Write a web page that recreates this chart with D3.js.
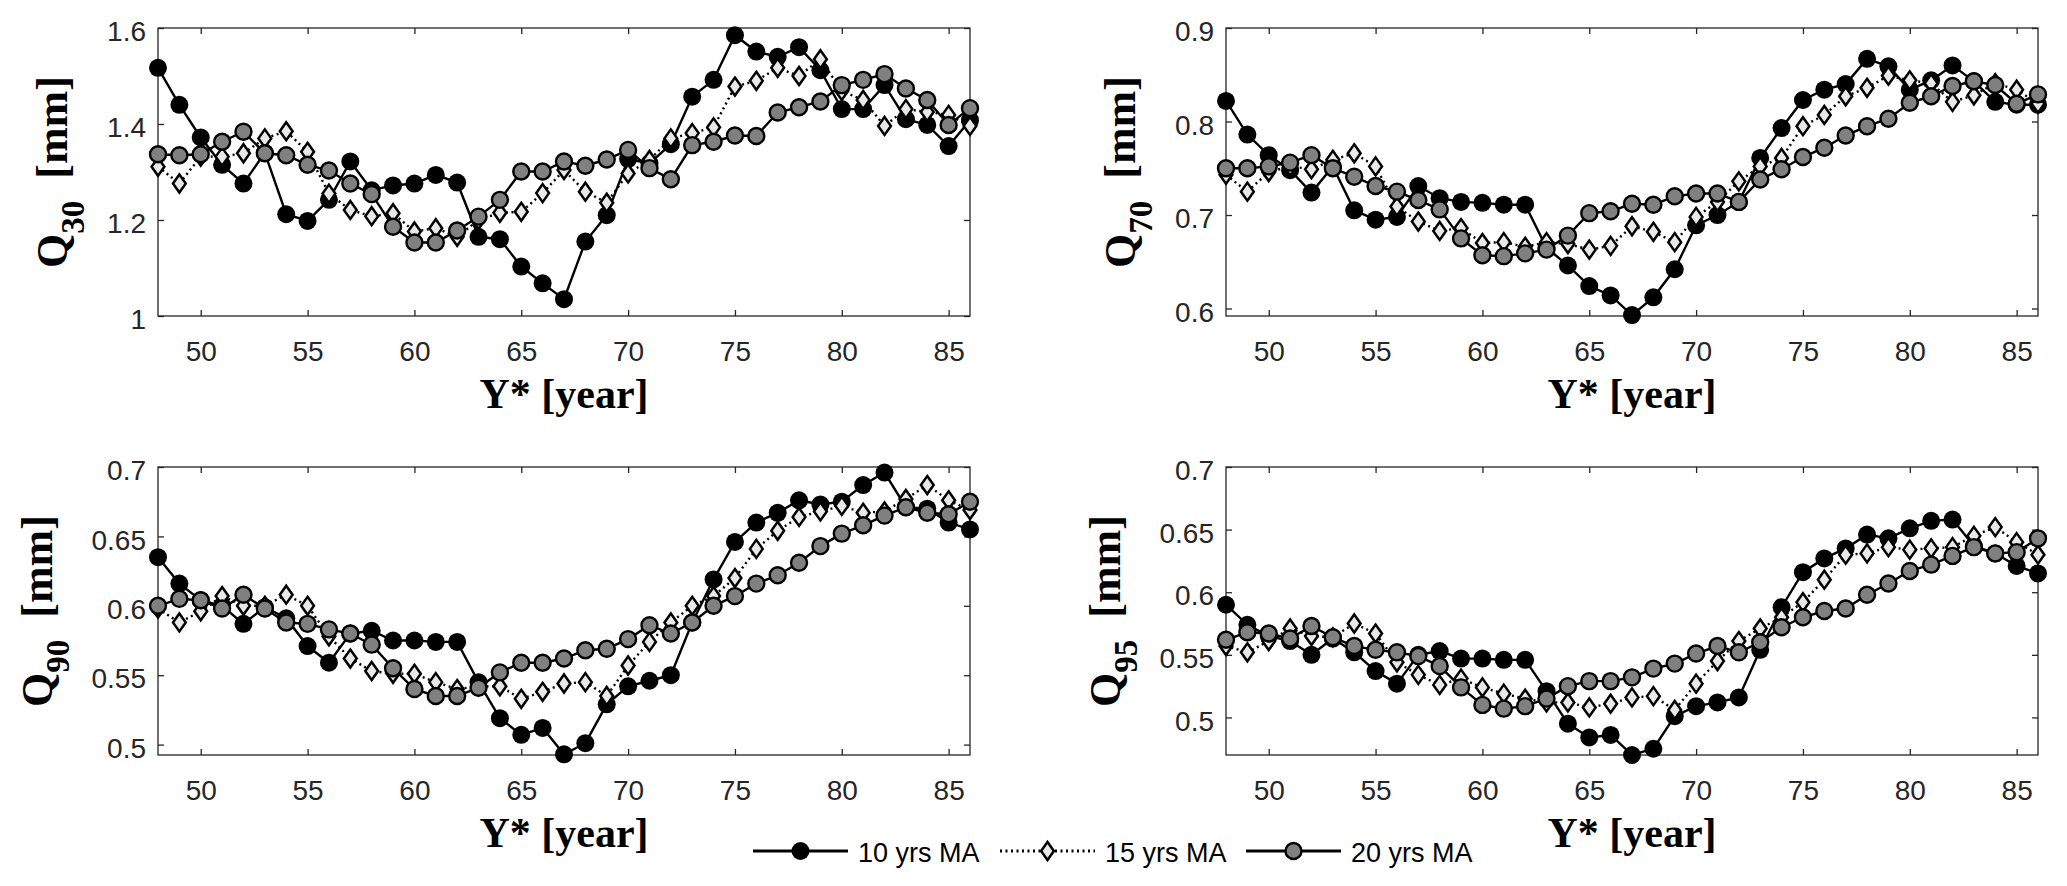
<!DOCTYPE html>
<html lang="en">
<head>
<meta charset="UTF-8">
<title>Moving averages of Q</title>
<style>
  body { margin: 0; background: #fff; }
</style>
</head>
<body>
<script src="https://d3js.org/d3.v7.min.js"></script>
<script>
// years Y* (x axis)
var years = [48, 49, 50, 51, 52, 53, 54, 55, 56, 57, 58, 59, 60, 61, 62, 63, 64, 65, 66, 67,
             68, 69, 70, 71, 72, 73, 74, 75, 76, 77, 78, 79, 80, 81, 82, 83, 84, 85, 86];

// Q30
var q30_10 = [1.517, 1.440, 1.372, 1.315, 1.276, 1.340, 1.212, 1.198, 1.242, 1.322, 1.262, 1.272, 1.276, 1.294, 1.278, 1.165, 1.160, 1.103, 1.068, 1.035,
              1.155, 1.210, 1.327, 1.318, 1.358, 1.457, 1.492, 1.585, 1.551, 1.540, 1.560, 1.512, 1.431, 1.431, 1.481, 1.410, 1.398, 1.354, 1.408];
var q30_15 = [1.311, 1.276, 1.332, 1.332, 1.339, 1.370, 1.385, 1.342, 1.255, 1.221, 1.208, 1.214, 1.176, 1.183, 1.165, 1.200, 1.215, 1.217, 1.256, 1.304,
              1.259, 1.236, 1.297, 1.325, 1.370, 1.381, 1.393, 1.478, 1.490, 1.517, 1.500, 1.535, 1.469, 1.450, 1.396, 1.431, 1.425, 1.419, 1.396];
var q30_20 = [1.337, 1.335, 1.337, 1.363, 1.384, 1.339, 1.335, 1.315, 1.303, 1.276, 1.254, 1.186, 1.153, 1.153, 1.178, 1.207, 1.242, 1.301, 1.301, 1.322,
              1.313, 1.326, 1.346, 1.308, 1.285, 1.356, 1.363, 1.376, 1.375, 1.424, 1.435, 1.447, 1.481, 1.492, 1.504, 1.474, 1.450, 1.398, 1.433];

// Q70
var q70_10 = [0.822, 0.786, 0.764, 0.748, 0.724, 0.752, 0.705, 0.695, 0.698, 0.731, 0.718, 0.714, 0.713, 0.711, 0.711, 0.665, 0.646, 0.624, 0.614, 0.593,
              0.612, 0.642, 0.689, 0.700, 0.714, 0.761, 0.793, 0.823, 0.834, 0.840, 0.867, 0.859, 0.834, 0.844, 0.860, 0.843, 0.821, 0.818, 0.818];
var q70_15 = [0.743, 0.725, 0.746, 0.752, 0.749, 0.759, 0.766, 0.752, 0.709, 0.693, 0.683, 0.686, 0.670, 0.671, 0.666, 0.671, 0.669, 0.663, 0.667, 0.688,
              0.682, 0.671, 0.698, 0.714, 0.736, 0.752, 0.761, 0.795, 0.807, 0.827, 0.836, 0.849, 0.844, 0.841, 0.821, 0.828, 0.841, 0.834, 0.819];
var q70_20 = [0.750, 0.750, 0.752, 0.756, 0.764, 0.750, 0.741, 0.731, 0.725, 0.716, 0.706, 0.675, 0.657, 0.656, 0.659, 0.663, 0.678, 0.702, 0.704, 0.712,
              0.711, 0.720, 0.723, 0.723, 0.714, 0.738, 0.749, 0.762, 0.772, 0.785, 0.795, 0.803, 0.820, 0.827, 0.838, 0.843, 0.839, 0.819, 0.829];

// Q90
var q90_10 = [0.635, 0.616, 0.604, 0.600, 0.587, 0.599, 0.591, 0.571, 0.559, 0.580, 0.582, 0.575, 0.575, 0.574, 0.574, 0.545, 0.519, 0.507, 0.512, 0.493,
              0.501, 0.529, 0.542, 0.546, 0.550, 0.588, 0.619, 0.646, 0.660, 0.667, 0.676, 0.673, 0.675, 0.687, 0.696, 0.671, 0.670, 0.660, 0.655];
var q90_15 = [0.598, 0.588, 0.596, 0.607, 0.600, 0.600, 0.608, 0.600, 0.578, 0.562, 0.553, 0.551, 0.551, 0.545, 0.540, 0.542, 0.542, 0.533, 0.538, 0.544,
              0.545, 0.535, 0.557, 0.574, 0.588, 0.600, 0.607, 0.620, 0.641, 0.654, 0.664, 0.668, 0.672, 0.667, 0.668, 0.677, 0.687, 0.676, 0.669];
var q90_20 = [0.600, 0.605, 0.604, 0.598, 0.608, 0.598, 0.588, 0.587, 0.583, 0.580, 0.572, 0.555, 0.540, 0.535, 0.535, 0.541, 0.552, 0.559, 0.559, 0.562,
              0.568, 0.569, 0.576, 0.586, 0.580, 0.588, 0.600, 0.607, 0.616, 0.622, 0.631, 0.643, 0.652, 0.658, 0.665, 0.671, 0.667, 0.666, 0.675];

// Q95
var q95_10 = [0.590, 0.574, 0.565, 0.561, 0.550, 0.563, 0.552, 0.537, 0.527, 0.550, 0.553, 0.547, 0.547, 0.546, 0.546, 0.521, 0.495, 0.484, 0.486, 0.470,
              0.475, 0.501, 0.509, 0.512, 0.516, 0.554, 0.588, 0.616, 0.627, 0.635, 0.646, 0.643, 0.651, 0.657, 0.658, 0.637, 0.631, 0.621, 0.615];
var q95_15 = [0.557, 0.552, 0.561, 0.571, 0.565, 0.564, 0.575, 0.567, 0.544, 0.534, 0.526, 0.531, 0.524, 0.519, 0.515, 0.512, 0.512, 0.508, 0.511, 0.516,
              0.517, 0.506, 0.527, 0.545, 0.561, 0.571, 0.580, 0.592, 0.610, 0.630, 0.631, 0.636, 0.634, 0.635, 0.636, 0.645, 0.652, 0.640, 0.630];
var q95_20 = [0.562, 0.568, 0.567, 0.563, 0.573, 0.564, 0.557, 0.554, 0.552, 0.549, 0.541, 0.524, 0.510, 0.507, 0.509, 0.515, 0.525, 0.529, 0.529, 0.532,
              0.539, 0.543, 0.551, 0.557, 0.552, 0.560, 0.572, 0.580, 0.585, 0.587, 0.598, 0.607, 0.617, 0.622, 0.629, 0.636, 0.631, 0.632, 0.643];

// ticks
var xTicks = [50, 55, 60, 65, 70, 75, 80, 85];
var q30Ticks = [1, 1.2, 1.4, 1.6];
var q70Ticks = [0.6, 0.7, 0.8, 0.9];
var q90Ticks = [0.5, 0.55, 0.6, 0.65, 0.7];
var q95Ticks = [0.5, 0.55, 0.6, 0.65, 0.7];

var legendNames = ["10 yrs MA", "15 yrs MA", "20 yrs MA"];
var subscripts = ["30", "70", "90", "95"];

var W = 812, H = 288;
var axisColor = "#262626";
var tickFont = "'Liberation Sans', Arial, sans-serif";
var labelFont = "'Liberation Serif', 'Times New Roman', serif";

var panels = [
    { sub: subscripts[0], series: [q30_10, q30_15, q30_20], domain: [1, 1.6], ticks: q30Ticks, left: 158, top: 28 },
    { sub: subscripts[1], series: [q70_10, q70_15, q70_20], domain: [0.592, 0.9], ticks: q70Ticks, left: 1226, top: 28 },
    { sub: subscripts[2], series: [q90_10, q90_15, q90_20], domain: [0.4925, 0.7], ticks: q90Ticks, left: 158, top: 467 },
    { sub: subscripts[3], series: [q95_10, q95_15, q95_20], domain: [0.47, 0.7], ticks: q95Ticks, left: 1226, top: 467 }
];

// line / marker style for each moving average
var styles = [
    { dash: null, marker: "circle", fill: "#000000", r: 9, stroke: "none" },
    { dash: "2,3.5", marker: "diamond", fill: "#e8e8e8", stroke: "#000" },
    { dash: null, marker: "circle", fill: "#808080", r: 8, stroke: "#000" }
];

function diamondPath(w, h) {
    return "M0," + (-h) + "L" + w + ",0L0," + h + "L" + (-w) + ",0Z";
}

function drawMarker(sel, st) {
    if (st.marker === "circle") {
        sel.append("circle")
            .attr("r", st.r)
            .attr("fill", st.fill)
            .attr("stroke", st.stroke)
            .attr("stroke-width", st.stroke === "none" ? 0 : 2.4);
    } else {
        sel.append("path")
            .attr("d", diamondPath(6.4, 9))
            .attr("fill", st.fill)
            .attr("stroke", st.stroke)
            .attr("stroke-width", 2.5)
            .attr("stroke-linejoin", "miter");
    }
}

var svg = d3.select("body").append("svg")
    .attr("width", 2067)
    .attr("height", 886)
    .style("display", "block");

panels.forEach(function (p) {
    var g = svg.append("g").attr("transform", "translate(" + p.left + "," + p.top + ")");

    var x = d3.scaleLinear().domain([48, 86]).range([0, W]);
    var y = d3.scaleLinear().domain(p.domain).range([H, 0]);

    var fmt = function (d) { return String(+d.toFixed(2)); };

    // axes with inward ticks on all four sides
    var gx = g.append("g").attr("transform", "translate(0," + H + ")")
        .call(d3.axisBottom(x).tickValues(xTicks).tickSize(-6).tickPadding(25).tickFormat(fmt));
    var gxt = g.append("g")
        .call(d3.axisTop(x).tickValues(xTicks).tickSize(-6).tickFormat(""));
    var gy = g.append("g")
        .call(d3.axisLeft(y).tickValues(p.ticks).tickSize(-6).tickPadding(12).tickFormat(fmt));
    var gyr = g.append("g").attr("transform", "translate(" + W + ",0)")
        .call(d3.axisRight(y).tickValues(p.ticks).tickSize(-6).tickFormat(""));

    [gx, gxt, gy, gyr].forEach(function (a) {
        a.select(".domain").remove();
        a.selectAll(".tick line").attr("stroke", axisColor).attr("stroke-width", 1.3);
        a.selectAll(".tick text")
            .attr("fill", axisColor)
            .style("font-family", tickFont)
            .style("font-size", "28px");
    });
    gy.selectAll(".tick text").attr("dy", "0.45em");

    g.append("rect")
        .attr("width", W).attr("height", H)
        .attr("fill", "none")
        .attr("stroke", axisColor)
        .attr("stroke-width", 1.3);

    // series
    p.series.forEach(function (vals, i) {
        var st = styles[i];
        var pts = years.map(function (yr, k) { return [yr, vals[k]]; });
        var line = d3.line()
            .x(function (d) { return x(d[0]); })
            .y(function (d) { return y(d[1]); });
        g.append("path")
            .datum(pts)
            .attr("d", line)
            .attr("fill", "none")
            .attr("stroke", "#000")
            .attr("stroke-width", 2.4)
            .attr("stroke-dasharray", st.dash);

        var m = g.append("g").selectAll("g")
            .data(pts)
            .enter()
            .append("g")
            .attr("transform", function (d) { return "translate(" + x(d[0]) + "," + y(d[1]) + ")"; });
        drawMarker(m, st);
    });

    // y label offset from the widest tick label
    var maxW = 0;
    gy.selectAll(".tick text").each(function () {
        maxW = Math.max(maxW, this.getComputedTextLength());
    });
    var off = 12 + maxW + 40;

    var yl = g.append("text")
        .attr("transform", "translate(" + (-off) + "," + (H / 2) + ") rotate(-90)")
        .attr("text-anchor", "middle")
        .attr("fill", "#000")
        .style("font-family", labelFont)
        .style("font-weight", "bold")
        .style("font-size", "44px");
    yl.append("tspan").text("Q");
    yl.append("tspan").attr("dy", 17).style("font-size", "33px").text(p.sub);
    yl.append("tspan").attr("dy", -17).text("\u2002[mm]");

    g.append("text")
        .attr("x", W / 2)
        .attr("y", H + 92)
        .attr("text-anchor", "middle")
        .attr("fill", "#000")
        .style("font-family", labelFont)
        .style("font-weight", "bold")
        .style("font-size", "42px")
        .text("Y* [year]");
});

// legend (no box)
var legendX = [753, 1000, 1246];
var legendY = 851;
var legend = svg.append("g");
legendNames.forEach(function (name, i) {
    var st = styles[i];
    var li = legend.append("g").attr("transform", "translate(" + legendX[i] + "," + legendY + ")");
    li.append("line")
        .attr("x1", 0).attr("x2", 95)
        .attr("y1", 0).attr("y2", 0)
        .attr("stroke", "#000")
        .attr("stroke-width", 3)
        .attr("stroke-dasharray", st.dash);
    drawMarker(li.append("g").attr("transform", "translate(47.5,0)"), st);
    li.append("text")
        .attr("x", 105)
        .attr("y", 11)
        .attr("fill", "#000")
        .style("font-family", tickFont)
        .style("font-size", "27px")
        .text(name);
});
</script>
</body>
</html>
